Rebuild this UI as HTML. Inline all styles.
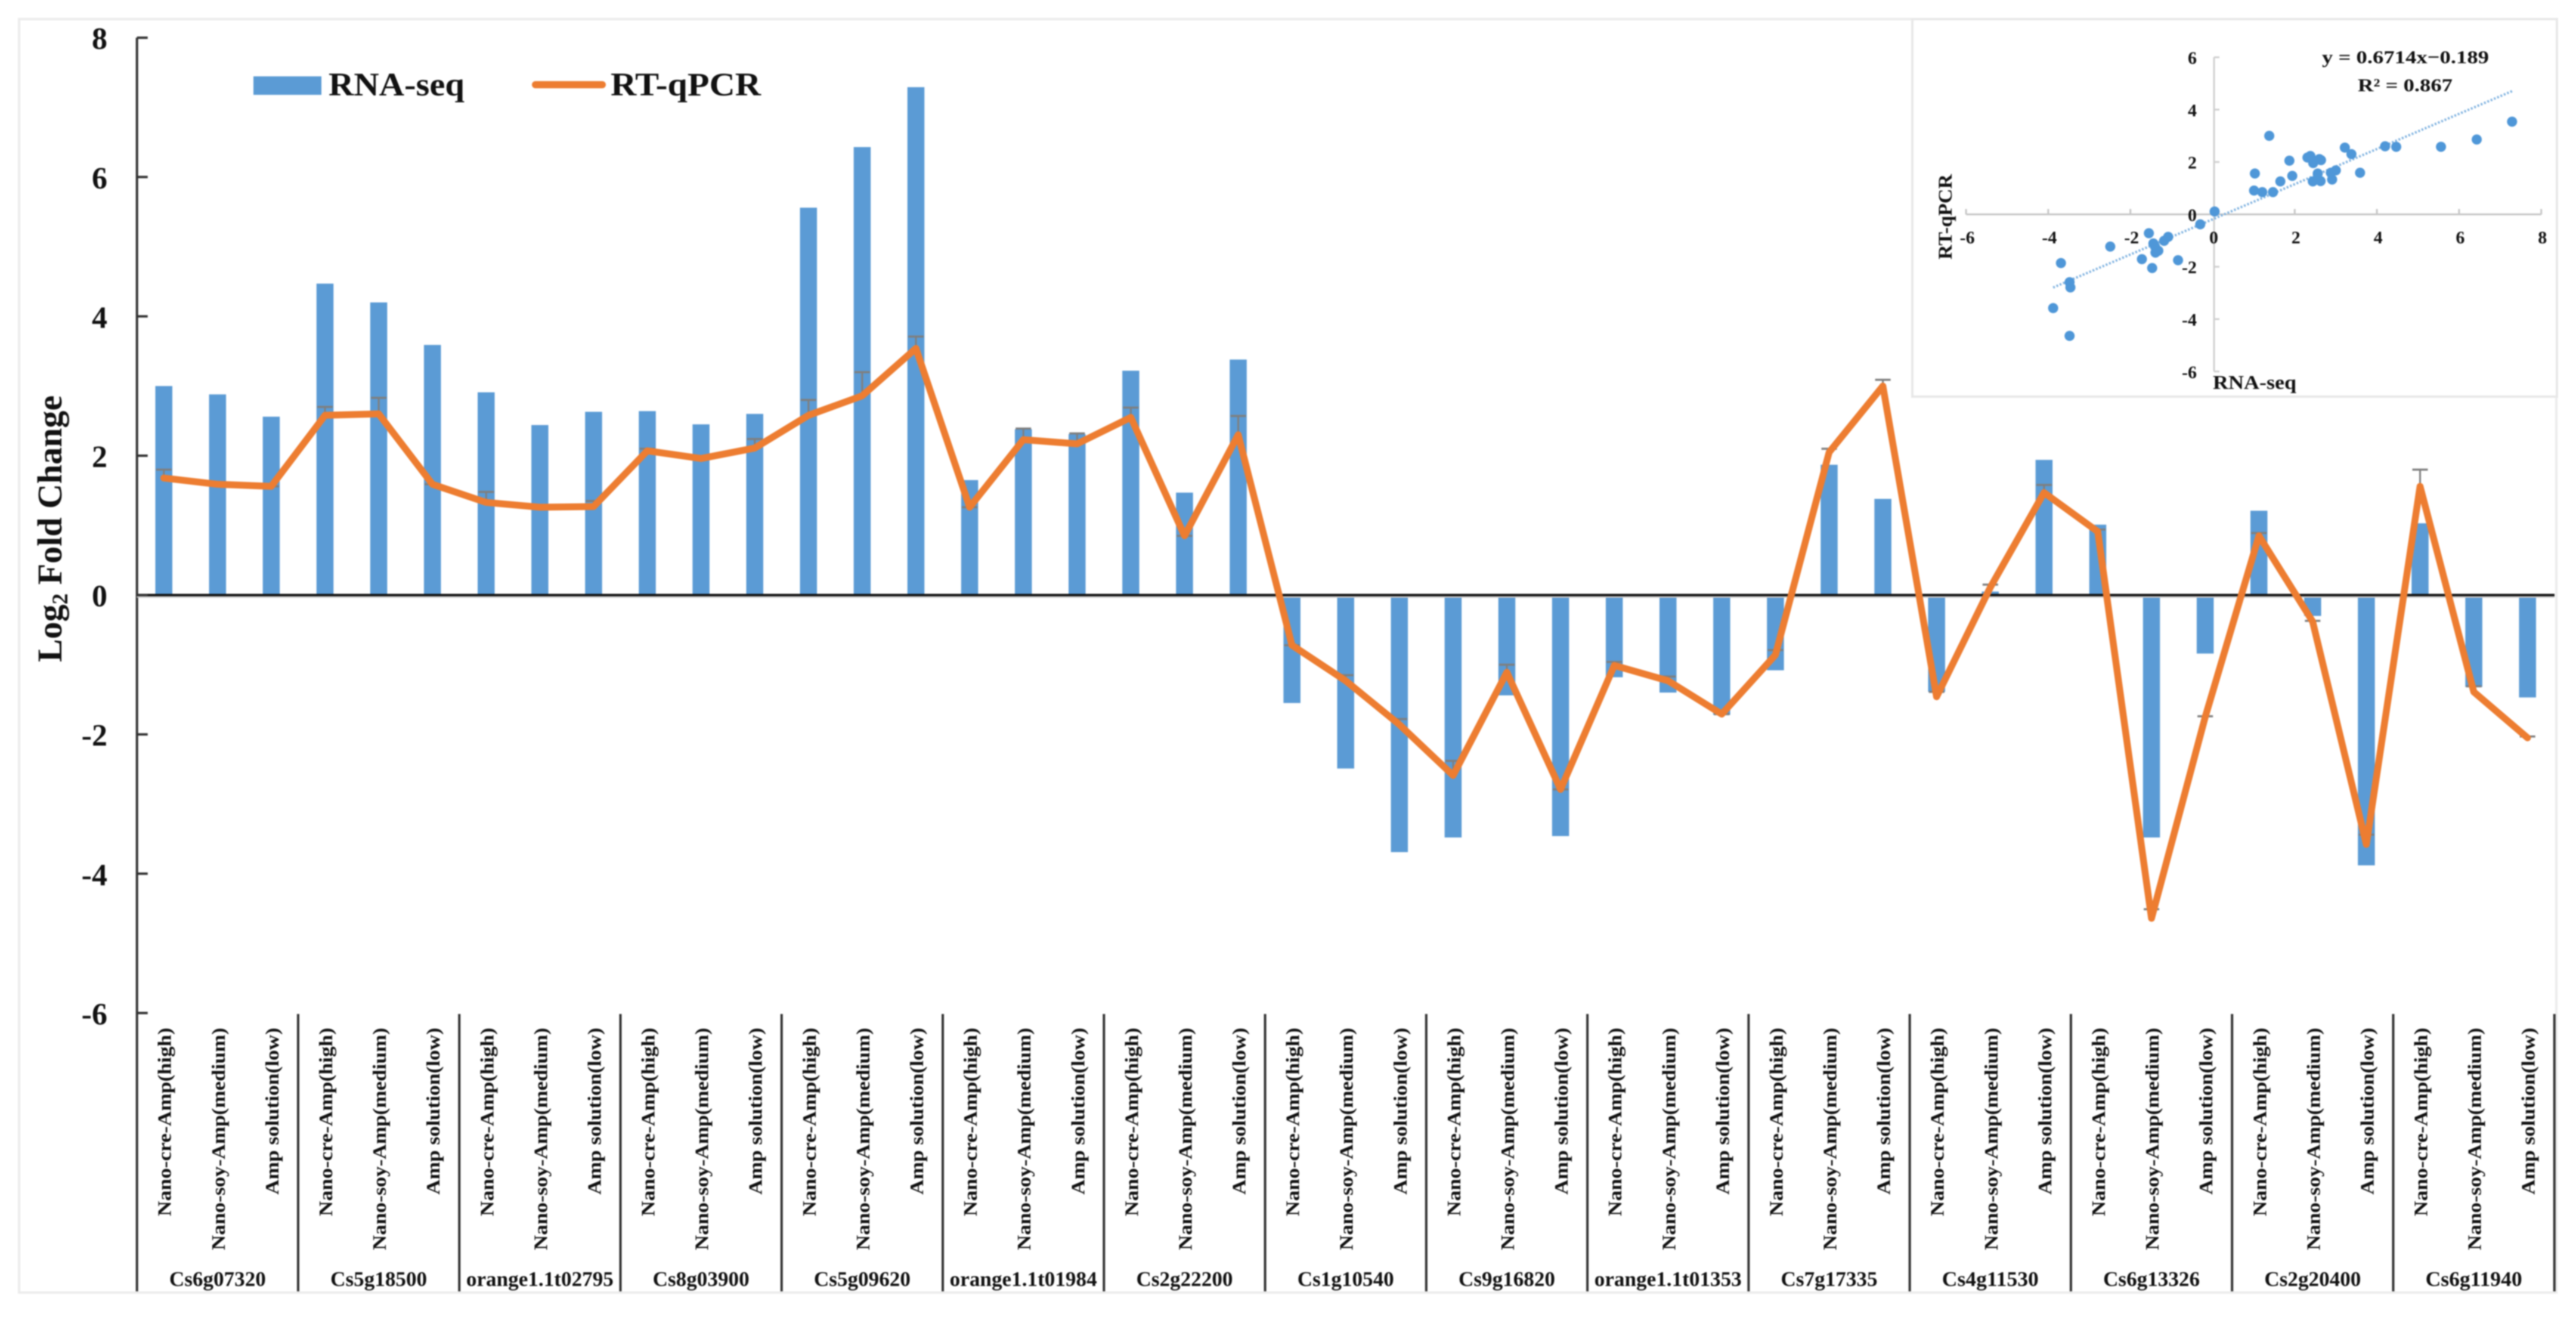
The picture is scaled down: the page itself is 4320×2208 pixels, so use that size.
<!DOCTYPE html>
<html lang="en">
<head>
<meta charset="utf-8">
<title>RNA-seq vs RT-qPCR Log2 Fold Change</title>
<style>
  html, body { margin: 0; padding: 0; background: #ffffff; }
  svg { display: block; filter: blur(1px); }
  text { font-family: "Liberation Serif", serif; font-weight: bold; fill: #111111; }
</style>
</head>
<body>
<svg id="figure" xmlns="http://www.w3.org/2000/svg" width="4320" height="2208" viewBox="0 0 4320 2208">
  <rect x="32" y="32" width="4255" height="2135" fill="#ffffff" stroke="#ececec" stroke-width="4"/>
  <g id="main-bars"></g>
  <g id="main-axes"></g>
  <g id="main-errors"></g>
  <g id="main-line"></g>
  <g id="main-labels"></g>
  <text transform="translate(103,1110) rotate(-90)" font-size="58">Log<tspan font-size="37" dy="10">2</tspan><tspan dy="-10"> Fold Change</tspan></text>
  <g>
    <rect x="425" y="128" width="114" height="31" fill="#5b9bd5"/>
    <text x="551" y="160" font-size="55" textLength="228" lengthAdjust="spacingAndGlyphs">RNA-seq</text>
    <line x1="898" y1="142" x2="1010" y2="142" stroke="#ed7d31" stroke-width="12" stroke-linecap="round"/>
    <text x="1024" y="160" font-size="55" textLength="252" lengthAdjust="spacingAndGlyphs">RT-qPCR</text>
  </g>
  <g>
    <rect x="3207" y="32" width="1081" height="633" fill="#ffffff" stroke="#e8e8e8" stroke-width="4"/>
    <g id="inset-axes"></g>
    <g id="inset-trend"></g>
    <g id="inset-points"></g>
    <text transform="translate(3273,435) rotate(-90)" font-size="33" textLength="143" lengthAdjust="spacingAndGlyphs">RT-qPCR</text>
    <text x="3711" y="652" font-size="33" textLength="140" lengthAdjust="spacingAndGlyphs">RNA-seq</text>
    <text x="3894" y="106" font-size="31" textLength="280" lengthAdjust="spacingAndGlyphs">y = 0.6714x−0.189</text>
    <text x="3954" y="153" font-size="31" textLength="159" lengthAdjust="spacingAndGlyphs">R² = 0.867</text>
  </g>
</svg>
<script>
const genes = ["Cs6g07320","Cs5g18500","orange1.1t02795","Cs8g03900","Cs5g09620","orange1.1t01984","Cs2g22200","Cs1g10540","Cs9g16820","orange1.1t01353","Cs7g17335","Cs4g11530","Cs6g13326","Cs2g20400","Cs6g11940"];
const treatments = ["Nano-cre-Amp(high)","Nano-soy-Amp(medium)","Amp solution(low)"];
const rnaSeq = [3.00,2.88,2.56,4.47,4.20,3.59,2.91,2.44,2.63,2.64,2.45,2.60,5.56,6.43,7.29,1.65,2.38,2.31,3.22,1.47,3.38,-1.55,-2.49,-3.69,-3.48,-1.44,-3.46,-1.18,-1.40,-1.72,-1.08,1.87,1.38,-1.39,0.05,1.94,1.01,-3.48,-0.84,1.21,-0.30,-3.88,1.03,-1.32,-1.47];
const rtQpcr = [1.68,1.59,1.56,2.58,2.60,1.59,1.33,1.26,1.27,2.07,1.96,2.11,2.58,2.86,3.54,1.26,2.23,2.17,2.55,0.85,2.30,-0.72,-1.23,-1.86,-2.59,-1.11,-2.79,-1.01,-1.23,-1.71,-0.86,2.05,3.00,-1.46,0.11,1.47,0.91,-4.64,-1.75,0.85,-0.38,-3.58,1.56,-1.39,-2.05];
const errorTops = [1.80,1.59,1.56,2.70,2.83,1.59,1.48,1.26,1.35,2.10,1.96,2.24,2.80,3.20,3.71,1.26,2.39,2.32,2.69,0.85,2.57,-0.72,-1.15,-1.78,-2.38,-1.00,-2.79,-0.96,-1.17,-1.71,-0.79,2.10,3.09,-1.39,0.15,1.58,0.94,-4.51,-1.74,0.89,-0.37,-3.44,1.80,-1.31,-2.03];
const yTicks = [8,6,4,2,0,-2,-4,-6];
const insetXTicks = [-6,-4,-2,0,2,4,6,8];
const insetYTicks = [6,4,2,0,-2,-4,-6];
const trendSlope = 0.6714;
const trendIntercept = -0.189;

const NS = "http://www.w3.org/2000/svg";
const plotLeft = 229.7, catWidth = 90.09, zeroY = 997.6, unitY = 116.8;
function xMain(i) { return plotLeft + catWidth * (i + 0.5); }
function yMain(v) { return zeroY - v * unitY; }
function xInset(v) { return 3710.5 + 68.9 * v; }
function yInset(v) { return 359.4 - 43.9 * v; }
function node(tag, parentId, attrs, content) {
  const el = document.createElementNS(NS, tag);
  for (const k in attrs) el.setAttribute(k, attrs[k]);
  if (content !== undefined) el.textContent = content;
  document.getElementById(parentId).appendChild(el);
  return el;
}
const barWidth = 28.5, capWidth = 26;
const treatmentLengths = [316, 373, 280];

rnaSeq.forEach(function (v, i) {
  const y0 = yMain(Math.max(v, 0)), y1 = yMain(Math.min(v, 0));
  const el = node("rect", "main-bars", { x: xMain(i) - barWidth / 2, y: y0, width: barWidth, height: y1 - y0, fill: "#5b9bd5" });
  
  
});

const yAxis = node("line", "main-axes", { x1: plotLeft, y1: yMain(8), x2: plotLeft, y2: 2165, stroke: "#333333", "stroke-width": 4 });


const zeroShade = node("line", "main-axes", { x1: plotLeft, y1: zeroY + 3, x2: 4284, y2: zeroY + 3, stroke: "#c8c8c8", "stroke-width": 3 });


const zeroLine = node("line", "main-axes", { x1: plotLeft, y1: zeroY, x2: 4284, y2: zeroY, stroke: "#111111", "stroke-width": 4 });



yTicks.forEach(function (t) {
  const tick = node("line", "main-axes", { x1: plotLeft, y1: yMain(t), x2: plotLeft + 18, y2: yMain(t), stroke: "#333333", "stroke-width": 4 });
  
  
  const label = node("text", "main-labels", { x: 180, y: yMain(t) + 19, "font-size": 52, "text-anchor": "end" }, String(t));
  
  
});

genes.forEach(function (g, k) {
  const sepX = plotLeft + catWidth * 3 * (k + 1);
  const sep = node("line", "main-axes", { x1: sepX, y1: 1700, x2: sepX, y2: 2165, stroke: "#333333", "stroke-width": 4 });
  
  
  const groupLabel = node("text", "main-labels", { x: plotLeft + catWidth * (3 * k + 1.5), y: 2156, "font-size": 35, "text-anchor": "middle", textLength: g.length > 10 ? 247 : 162, lengthAdjust: "spacingAndGlyphs" }, g);
  
  
  treatments.forEach(function (t, j) {
    const cx = xMain(3 * k + j) + 12;
    const lab = node("text", "main-labels", { transform: "translate(" + cx + ",1723) rotate(-90)", "font-size": 32, "text-anchor": "end", textLength: treatmentLengths[j], lengthAdjust: "spacingAndGlyphs" }, t);
    
    
  });
});

errorTops.forEach(function (v, i) {
  const x = xMain(i), yTop = yMain(v);
  const stem = node("line", "main-errors", { x1: x, y1: yTop, x2: x, y2: yMain(rtQpcr[i]), stroke: "#7f7f7f", "stroke-width": 3 });
  
  
  const cap = node("line", "main-errors", { x1: x - capWidth / 2, y1: yTop, x2: x + capWidth / 2, y2: yTop, stroke: "#7f7f7f", "stroke-width": 3.5 });
  
  
});

const linePoints = rtQpcr.map(function (v, i) { return xMain(i).toFixed(1) + "," + yMain(v).toFixed(1); }).join(" ");
const rtLine = node("polyline", "main-line", { points: linePoints, fill: "none", stroke: "#ed7d31", "stroke-width": 11.5, "stroke-linejoin": "round", "stroke-linecap": "round" });



const insetXAxis = node("line", "inset-axes", { x1: xInset(-6), y1: yInset(0), x2: xInset(8), y2: yInset(0), stroke: "#c6c6c6", "stroke-width": 3 });


const insetYAxis = node("line", "inset-axes", { x1: 3713, y1: yInset(6), x2: 3713, y2: yInset(-6), stroke: "#d0d0d0", "stroke-width": 3 });



insetXTicks.forEach(function (t) {
  const tick = node("line", "inset-axes", { x1: xInset(t), y1: yInset(0) - 9, x2: xInset(t), y2: yInset(0), stroke: "#c6c6c6", "stroke-width": 3 });
  
  
  const label = node("text", "inset-axes", { x: xInset(t) + 2, y: 408, "font-size": 30, "text-anchor": "middle" }, String(t));
  
  
});
insetYTicks.forEach(function (t) {
  const tick = node("line", "inset-axes", { x1: 3713, y1: yInset(t), x2: 3722, y2: yInset(t), stroke: "#d0d0d0", "stroke-width": 3 });
  
  
  const label = node("text", "inset-axes", { x: 3684, y: yInset(t) + 11, "font-size": 30, "text-anchor": "end" }, String(t));
  
  
});

const minX = Math.min.apply(null, rnaSeq), maxX = Math.max.apply(null, rnaSeq);
const trend = node("line", "inset-trend", { x1: xInset(minX), y1: yInset(trendSlope * minX + trendIntercept), x2: xInset(maxX), y2: yInset(trendSlope * maxX + trendIntercept), stroke: "#7fb2e0", "stroke-width": 4, "stroke-dasharray": "3 3" });



rnaSeq.forEach(function (v, i) {
  const pt = node("circle", "inset-points", { cx: xInset(v), cy: yInset(rtQpcr[i]), r: 8.5, fill: "#4f97d8" });
  
  
});
</script>
</body>
</html>
